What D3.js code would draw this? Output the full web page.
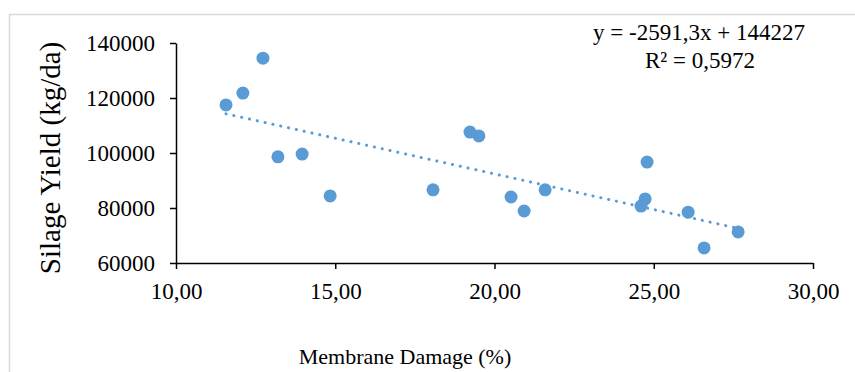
<!doctype html>
<html lang="en">
<head>
    <meta charset="UTF-8">
    <title>Silage Yield vs Membrane Damage</title>
    <style>
        body {
            margin: 0;
            background: #fff;
        }

        .chart text {
            font-family: "Liberation Serif", "Times New Roman", serif !important;
            fill: #000;
        }

        .axis path,
        .axis line {
            fill: none;
            stroke: #000;
            stroke-width: 1.5;
        }

        .axis text {
            font-size: 23px;
        }

        .dot {
            fill: #5b9bd5;
        }
    </style>
</head>

<body>
<svg class="chart"></svg>
</body>

<script src="https://d3js.org/d3.v7.min.js" charset="utf-8"></script>
<script>
    // values
    var damage = [11.57, 12.10, 12.73, 13.20, 13.96, 14.84, 18.07, 19.23, 19.51,
                  20.52, 20.93, 21.59, 24.60, 24.73, 24.79, 26.08, 26.58, 27.65];
    var yieldKg = [117500, 121800, 134500, 98600, 99600, 84400, 86600, 107600, 106200,
                   84000, 78900, 86600, 80700, 83300, 96700, 78500, 65500, 71300];
    var xTicks = [10, 15, 20, 25, 30];
    var yTicks = [60000, 80000, 100000, 120000, 140000];
    var slope = -2591.3, intercept = 144227;
    var eqLabel = "y = -2591,3x + 144227";
    var r2Label = "R² = 0,5972";

    var totalWidth = 855, totalHeight = 372;
    var margin = {top: 43, left: 176};
    var width = 637, height = 220;

    var svg = d3.select(".chart")
        .attr("width", totalWidth)
        .attr("height", totalHeight);

    // chart area border
    svg.append("rect")
        .attr("x", 9.5).attr("y", 14.5)
        .attr("width", 900).attr("height", 400)
        .attr("fill", "none")
        .attr("stroke", "#d9d9d9")
        .attr("stroke-width", 1.5);

    var g = svg.append("g")
        .attr("transform", "translate(" + margin.left + "," + margin.top + ")");

    var x = d3.scaleLinear().domain([10, 30]).range([0, width]);
    var y = d3.scaleLinear().domain([60000, 140000]).range([height, 0]);

    var fmt = function(d) { return d3.format(".2f")(d).replace(".", ","); };

    // x-axis
    var xa = g.append("g").attr("class", "x axis")
        .attr("transform", "translate(0," + height + ")")
        .call(d3.axisBottom(x).tickValues(xTicks).tickFormat(fmt).tickSize(6).tickSizeOuter(0));
    xa.attr("font-family", null).attr("font-size", null);
    xa.selectAll("text").attr("dy", null).attr("y", 36);

    // y-axis
    var ya = g.append("g").attr("class", "y axis")
        .call(d3.axisLeft(y).tickValues(yTicks).tickFormat(d3.format("d")).tickSize(6).tickSizeOuter(0));
    ya.attr("font-family", null).attr("font-size", null);
    ya.selectAll("text").attr("x", -21).attr("dy", "0.33em");

    // trendline
    var xr = d3.extent(damage);
    g.append("line")
        .attr("x1", x(xr[0])).attr("y1", y(slope * xr[0] + intercept))
        .attr("x2", x(xr[1])).attr("y2", y(slope * xr[1] + intercept))
        .attr("stroke", "#5b9bd5")
        .attr("stroke-width", 3)
        .attr("stroke-linecap", "round")
        .attr("stroke-dasharray", "0.1 7.9");

    // points
    g.selectAll(".dot").data(damage).enter()
        .append("circle").attr("class", "dot")
        .attr("cx", function(d) { return x(d); })
        .attr("cy", function(d, i) { return y(yieldKg[i]); })
        .attr("r", 6.5);

    // equation
    svg.append("text")
        .attr("x", 699).attr("y", 40)
        .attr("text-anchor", "middle")
        .style("font-size", "23px")
        .text(eqLabel);
    svg.append("text")
        .attr("x", 700).attr("y", 68)
        .attr("text-anchor", "middle")
        .style("font-size", "23px")
        .text(r2Label);

    // axis titles
    svg.append("text")
        .attr("transform", "translate(60,158) rotate(-90)")
        .attr("text-anchor", "middle")
        .style("font-size", "29px")
        .text("Silage Yield (kg/da)");
    svg.append("text")
        .attr("x", 405).attr("y", 364)
        .attr("text-anchor", "middle")
        .style("font-size", "22px")
        .text("Membrane Damage (%)");
</script>
</html>
